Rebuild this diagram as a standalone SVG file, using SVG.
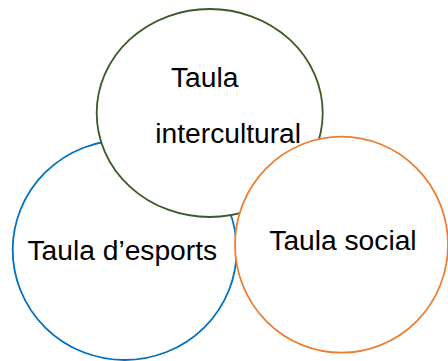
<svg xmlns="http://www.w3.org/2000/svg" width="448" height="361" viewBox="0 0 448 361">
<style>
.n{fill:#fff;stroke-width:1.8}
.t{font-family:"Liberation Sans",Arial,sans-serif;font-size:28.2px;fill:#000}
</style>
<rect width="448" height="361" fill="#fff"/>
<g id="esports">
<ellipse class="n" cx="124.7" cy="250" rx="112" ry="110" stroke="#0070C0"/>
<text class="t" x="27.5" y="259.5">Taula d’esports</text>
</g>
<g id="intercultural">
<ellipse class="n" cx="209.7" cy="113" rx="113" ry="104" stroke="#3B5A27"/>
<text class="t" x="171" y="86.8">Taula</text>
<text class="t" x="155.3" y="143.3">intercultural</text>
</g>
<g id="social">
<ellipse class="n" cx="341.5" cy="244.7" rx="106.5" ry="108" stroke="#ED7D31"/>
<text class="t" x="269.3" y="250">Taula social</text>
</g>
<g id="connectors"/>
</svg>
